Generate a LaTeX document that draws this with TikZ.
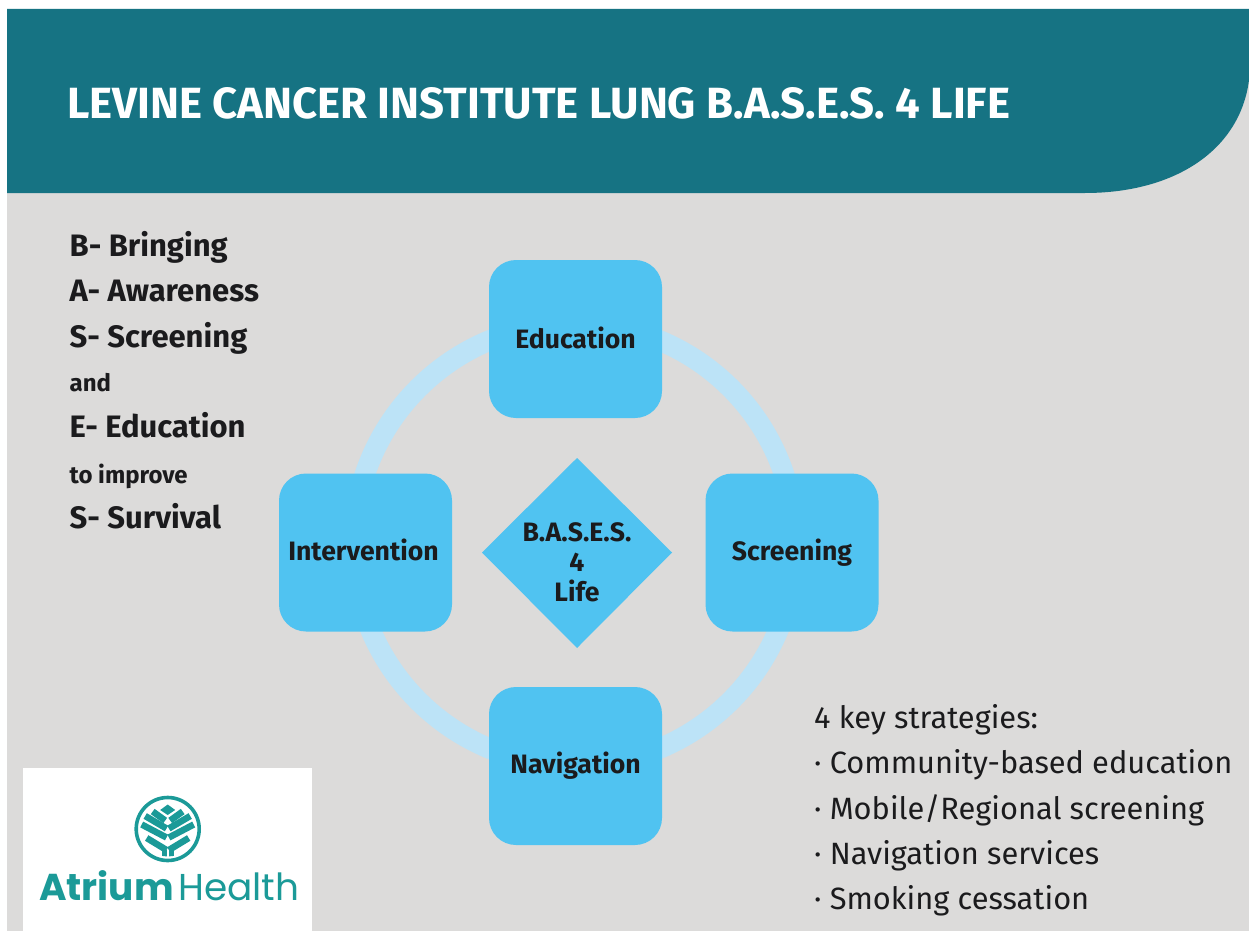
\documentclass[tikz,border=0pt]{standalone}
\usepackage{fontspec}
\setmainfont{Fira Sans}
\newfontfamily\logofont{Poppins}
\definecolor{teal}{HTML}{167383}
\definecolor{paper}{HTML}{DCDBDA}
\definecolor{boxblue}{HTML}{50C3F1}
\definecolor{ringblue}{HTML}{BCE3F7}
\definecolor{ink}{HTML}{1B1B1D}
\definecolor{logo}{HTML}{1B9A98}
\tikzset{
  x=1pt,y=-1pt,
  stage/.style={rectangle,rounded corners=27pt,fill=boxblue,minimum width=173pt,minimum height=158pt,
    font=\fontsize{26.6}{30}\selectfont\bfseries,text=ink,inner sep=0pt,text height=16pt,text depth=0pt},
  keyline/.style={anchor=base west,inner sep=0pt,text=ink,font=\fontsize{31}{34}\selectfont\bfseries},
  smallline/.style={anchor=base west,inner sep=0pt,text=ink,font=\fontsize{24}{26}\selectfont\bfseries},
  stratline/.style={anchor=base west,inner sep=0pt,text=ink,font=\fontsize{30.8}{36}\selectfont},
  leaf/.style={line width=6.5pt,draw=logo,line cap=butt}
}
\begin{document}
\begin{tikzpicture}
\useasboundingbox (0,0) rectangle (1249,931);
\fill[white] (0,0) rectangle (1249,931);
\fill[paper] (7,193) rectangle (1249,931);
\fill[paper] (1000,60) rectangle (1249,193);
\fill[teal] (7,9) -- (1249,9) -- (1249,80) .. controls (1240,150) and (1175,193) .. (1085,193) -- (7,193) -- cycle;
\node[anchor=base west,inner sep=0pt,text=white,font=\fontsize{43.7}{48}\selectfont\bfseries] (title) at (67,118) {LEVINE CANCER INSTITUTE LUNG B.A.S.E.S. 4 LIFE};

\node[keyline] (l1) at (69.5,256.5) {B- Bringing};
\node[keyline] (l2) at (69.5,301.5) {A- Awareness};
\node[keyline] (l3) at (69.5,347.5) {S- Screening};
\node[smallline] (l4) at (69.5,391.5) {and};
\node[keyline] (l5) at (69.5,437.5) {E- Education};
\node[smallline] (l6) at (69.5,483.5) {to improve};
\node[keyline] (l7) at (69.5,528.5) {S- Survival};

\coordinate (hub) at (574.5,544.5);
\draw[ringblue,line width=20.5pt] (hub) circle[radius=221];
\node[stage,text height=18pt] (edu) at (575.5,339) {Education};
\node[stage] (scr) at (792,552.5) {Screening};
\node[stage,text height=15pt] (nav) at (575.5,766) {Navigation};
\node[stage] (int) at (365.5,552.5) {Intervention\kern4pt};
\fill[boxblue] (577,458) -- (672,552.5) -- (577,648) -- (482,552.5) -- cycle;
\node[align=center,inner sep=0pt,text=ink,font=\fontsize{26.6}{30}\selectfont\bfseries] (core) at (577,562) {B.A.S.E.S.\\4\\Life};

\node[stratline] (s0) at (814,728) {4 key strategies:};
\node[stratline] (s1) at (814,773) {· Community-based education};
\node[stratline] (s2) at (814,819) {· Mobile/Regional screening};
\node[stratline] (s3) at (814,864) {· Navigation services};
\node[stratline] (s4) at (814,909) {· Smoking cessation};

\fill[white] (23,768) rectangle (312,931);
\begin{scope}[shift={(167.7,829)}]
\draw[logo,line width=3.6pt] (0,0) circle[radius=31.5];
\begin{scope}
\clip (0,0) circle[radius=27.5];
\fill[logo] (0,-24.5) -- (7.5,-19) -- (0,-14) -- (-7.5,-19) -- cycle;
\foreach \s in {-1,1}{
  \begin{scope}[xscale=\s]
  \draw[leaf] (2.5,-8.5) -- (15,-17.5);
  \draw[leaf] (1.2,-0.5) -- (22.5,-13);
  \draw[leaf] (1.2,8.5) -- (26,-4.5);
  \draw[leaf] (1.2,21) -- (21,9);
  \fill[logo] (1.2,21) rectangle (6,30);
  \end{scope}
}
\end{scope}
\end{scope}
\node[anchor=base west,inner sep=0pt,text=logo,font=\logofont\fontsize{37.4}{40}\selectfont\bfseries] (atr) at (39,900) {Atrium};
\node[anchor=base west,inner sep=0pt,text=logo,font=\logofont\fontsize{37.4}{40}\selectfont] (hlt) at (178,900) {Health};
\end{tikzpicture}
\end{document}
